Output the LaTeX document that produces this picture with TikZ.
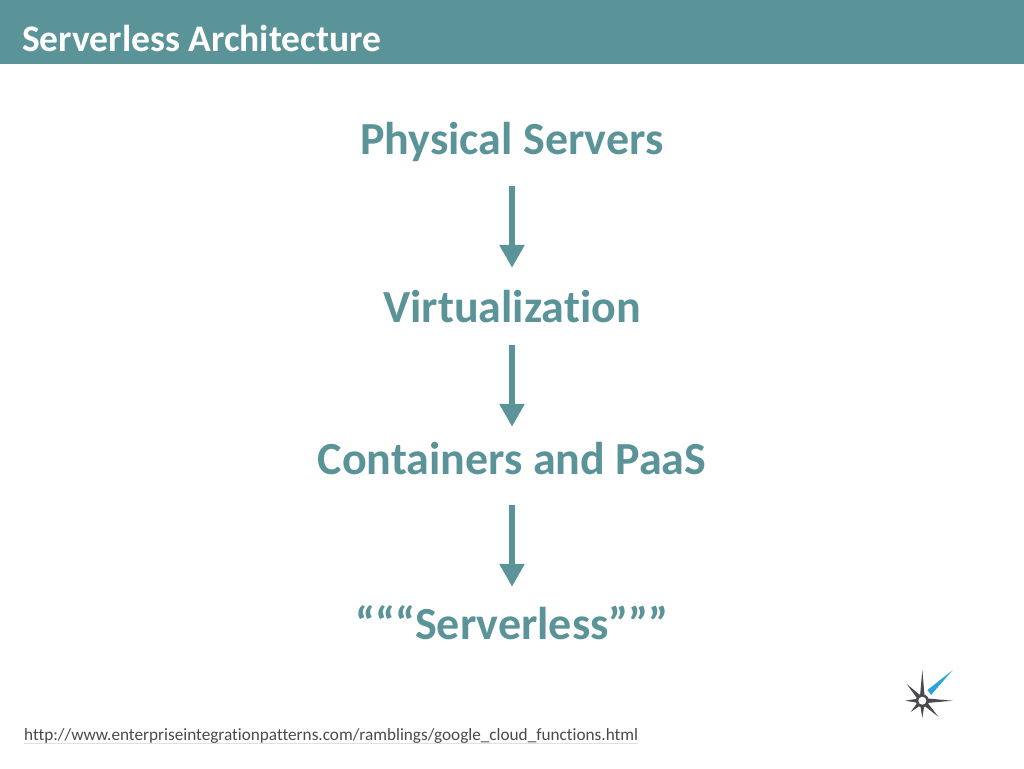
\documentclass[tikz,border=0pt]{standalone}
\usepackage{fontspec}
\setmainfont[RawFeature=-liga]{Carlito}
\usetikzlibrary{arrows.meta}
\definecolor{teal}{HTML}{5A9498}
\definecolor{star}{HTML}{4A4A4E}
\definecolor{spark}{HTML}{2AA5DC}

\begin{document}
\begin{tikzpicture}[x=1pt,y=-1pt,
  step text/.style={anchor=base, inner sep=0pt, text height=30pt, text depth=10pt,
                    text=teal, font=\fontsize{46}{46}\selectfont\bfseries},
  step arrow/.style={draw=teal, line width=6pt, -{Triangle[width=24pt,length=23pt,fill=teal]}}]
\useasboundingbox (0,0) rectangle (1024,768);

  % title bar
  \fill[teal] (0,0) rectangle (1024,64);
  \node[anchor=base west, inner sep=0pt, text=white,
        font=\fontsize{37.5}{38}\selectfont\bfseries] (title) at (22,52) {Serverless Architecture};

  % steps
  \node[step text] (physical) at (512,154) {Physical Servers};
  \node[step text] (virtual) at (512,322) {Virtualization};
  \node[step text] (paas) at (512,474) {Containers and PaaS};
  \node[step text] (serverless) at (512,639) {“““Serverless”””};

  \draw[step arrow, shorten <=22pt, shorten >=24pt] (physical) -- (virtual);
  \draw[step arrow, shorten <=13pt, shorten >=17pt] (virtual) -- (paas);
  \draw[step arrow, shorten <=21pt, shorten >=22pt] (paas) -- (serverless);

  % link
  \node[anchor=base west, inner sep=0pt, text=star,
        font=\fontsize{17.2}{18}\selectfont] (link) at (24,740)
        {http://www.enterpriseintegrationpatterns.com/ramblings/google\_cloud\_functions.html};
  \draw[black!12, line width=0.8pt] ([yshift=-3pt]link.base west) -- ([yshift=-3pt]link.base east);

  % logo
  \fill[spark] (927.5,690) -- (952.7,670) -- (931,695) -- cycle;
  \fill[star] (922.3,670) -- (925,701) -- (922.3,718) -- (919.6,701) -- cycle;
  \fill[star] (905,700.7) -- (922,698) -- (952.7,700.7) -- (922,703.4) -- cycle;
  \fill[star] (906.7,684) -- (924.5,698.8) -- (938.3,716.7) -- (920.2,702.6) -- cycle;
  \fill[star] (910.7,712) -- (920.2,698.8) -- (924.5,702.6) -- cycle;
  \fill[star] (922.3,700.7) circle (6.5pt);
  \fill[white] (922.3,700.7) circle (4pt);
\end{tikzpicture}
\end{document}
